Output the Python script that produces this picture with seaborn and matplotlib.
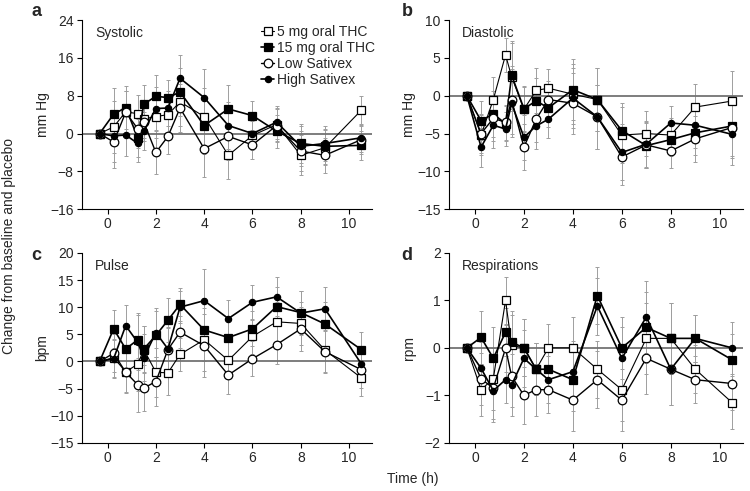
import matplotlib
matplotlib.use("Agg")
import matplotlib.pyplot as plt
import seaborn as sns

# time points (h); first one is the pre-dose baseline
times = [-0.33, 0.25, 0.75, 1.25, 1.5, 2, 2.5, 3, 4, 5, 6, 7, 8, 9, 10.5]

groups = ["5 mg oral THC", "15 mg oral THC", "Low Sativex", "High Sativex"]

# a: systolic (mm Hg)
sys_thc5 = [0, 1.4, 4.6, 4.2, 3.1, 3.6, 4.0, 6.7, 3.6, -4.6, -0.4, 1.9, -4.6, -3.0, 4.9]
sys_thc15 = [0, 4.1, 5.5, -0.9, 6.2, 7.9, 7.6, 8.8, 1.7, 5.2, 3.8, 0.5, -2.1, -2.7, -2.5]
sys_low = [0, -1.8, 4.5, 1.0, 2.4, -4.0, -0.6, 5.4, -3.2, -0.6, -2.4, 1.7, -3.7, -4.6, -1.3]
sys_high = [0, -0.5, -0.3, -2.1, 0.5, 5.3, 5.4, 11.7, 7.6, 1.7, 0.0, 2.4, -2.7, -2.1, -0.9]
sys_err = [0, 5.5, 4.5, 4, 4, 4.5, 3.7, 5, 6, 5, 3, 3.5, 4.2, 3.7, 3]

# b: diastolic (mm Hg)
dia_thc5 = [0, -5.2, -0.5, 5.4, 2.5, -1.8, 0.7, 1.0, 0.2, -0.5, -5.2, -5.0, -5.2, -1.5, -0.7]
dia_thc15 = [0, -3.3, -2.4, -3.7, 2.7, -1.7, -0.7, -1.6, 0.8, -0.5, -4.6, -6.6, -5.8, -4.9, -4.0]
dia_low = [0, -5.0, -3.0, -3.5, -0.6, -6.8, -3.1, -0.5, -1.0, -2.8, -8.1, -6.5, -7.3, -5.7, -4.2]
dia_high = [0, -6.8, -3.9, -4.4, -1.0, -5.5, -4.0, -3.1, -0.3, -2.8, -7.5, -6.4, -3.6, -3.9, -5.1]
dia_err = [0, 2.6, 3, 2.3, 4.5, 3, 3, 2.5, 4, 4.2, 3.7, 3, 2.2, 3, 4]

# c: pulse (bpm)
pul_thc5 = [0, 0.7, -1.9, -0.5, 2.2, -2.0, -2.1, 1.3, 4.0, 0.2, 4.6, 7.3, 7.0, 2.1, -3.0]
pul_thc15 = [0, 6.0, 2.3, 4.0, 2.3, 4.8, 7.6, 10.5, 5.8, 4.4, 6.0, 10.1, 9.0, 6.9, 2.2]
pul_low = [0, 1.5, -2.0, -4.3, -4.9, -3.7, 2.2, 5.4, 2.9, -2.5, 0.5, 3.1, 6.0, 1.8, -1.5]
pul_high = [0, 0.5, 6.6, 3.5, 0.7, 5.3, 2.3, 10.0, 11.2, 7.9, 10.9, 11.9, 8.9, 9.7, -0.4]
pul_err = [0, 3.5, 3.8, 5, 4.3, 4.5, 4, 3, 5.8, 3.5, 3.2, 3.6, 4, 4, 3.3]

# d: respirations (rpm)
res_thc5 = [0, -0.88, -0.65, 1.0, 0.05, 0.0, -0.45, 0.0, 0.0, -0.45, -0.88, 0.2, 0.2, -0.45, -1.15]
res_thc15 = [0, 0.22, -0.22, 0.33, 0.12, 0.0, -0.45, -0.45, -0.67, 1.1, 0.0, 0.43, 0.2, 0.2, -0.25]
res_low = [0, -0.65, -0.85, -0.01, -0.6, -1.0, -0.88, -0.88, -1.1, -0.67, -1.1, -0.22, -0.45, -0.67, -0.75]
res_high = [0, -0.43, -0.9, -0.67, -0.78, -0.22, -0.45, -0.67, -0.5, 0.88, -0.22, 0.65, -0.45, 0.2, 0.0]
res_err = [0, 0.55, 0.65, 0.5, 0.65, 0.6, 0.55, 0.5, 0.65, 0.6, 0.66, 0.75, 0.75, 0.5, 0.55]

panels = [
    ("a", "Systolic", "mm Hg", [sys_thc5, sys_thc15, sys_low, sys_high], sys_err,
     (-16, 24), [-16, -8, 0, 8, 16, 24]),
    ("b", "Diastolic", "mm Hg", [dia_thc5, dia_thc15, dia_low, dia_high], dia_err,
     (-15, 10), [-15, -10, -5, 0, 5, 10]),
    ("c", "Pulse", "bpm", [pul_thc5, pul_thc15, pul_low, pul_high], pul_err,
     (-15, 20), [-15, -10, -5, 0, 5, 10, 15, 20]),
    ("d", "Respirations", "rpm", [res_thc5, res_thc15, res_low, res_high], res_err,
     (-2, 2), [-2, -1, 0, 1, 2]),
]

# marker style per group: (marker, face colour, size, line width)
styles = [
    ("s", "white", 6.2, 0.8),
    ("s", "black", 5.5, 1.2),
    ("o", "white", 6.2, 1.0),
    ("o", "black", 4.5, 1.2),
]

sns.set_style("ticks")
plt.rcParams["font.family"] = ["Liberation Sans", "DejaVu Sans"]

fig = plt.figure(figsize=(7.5, 4.91), dpi=100)
boxes = [
    (82 / 750, 0.574, 290 / 750, 0.385),
    (449 / 750, 0.574, 294 / 750, 0.385),
    (82 / 750, 0.098, 290 / 750, 0.387),
    (449 / 750, 0.098, 294 / 750, 0.387),
]
# panel letter positions (figure fraction)
letter_pos = [(37 / 750, 1 - 12 / 491), (407 / 750, 1 - 12 / 491),
              (36 / 750, 1 - 256 / 491), (407 / 750, 1 - 256 / 491)]

for (letter, title, unit, series, err, ylim, yticks), box, lp in zip(panels, boxes, letter_pos):
    ax = fig.add_axes(box)
    ax.axhline(0, color="0.45", lw=1.3, zorder=1.5)
    for vals in series:
        ax.errorbar(times, vals, yerr=err, fmt="none", ecolor="0.62",
                    elinewidth=0.7, capsize=1.5, capthick=0.7, zorder=1)
    for name, vals, (mk, fc, ms, lw) in zip(groups, series, styles):
        sns.lineplot(x=times, y=vals, ax=ax, color="black", marker=mk,
                     markerfacecolor=fc, markeredgecolor="black",
                     markeredgewidth=0.9, markersize=ms, linewidth=lw,
                     label=name, legend=False, zorder=3)
    ax.set_xlim(-1.06, 10.95)
    ax.set_ylim(*ylim)
    ax.set_xticks([0, 2, 4, 6, 8, 10])
    ax.set_yticks(yticks)
    ax.tick_params(labelsize=10, length=3.5, width=0.8, pad=2.5, color="black")
    for s in ["left", "bottom"]:
        ax.spines[s].set_linewidth(0.8)
        ax.spines[s].set_color("black")
    sns.despine(ax=ax)
    ax.set_xlabel("")
    ax.set_ylabel(unit, fontsize=10)
    ax.yaxis.set_label_coords(-0.112, 0.5)
    ax.text(0.045, 0.93, title, transform=ax.transAxes, fontsize=10,
            ha="left", va="center")
    fig.text(lp[0], lp[1], letter, fontsize=13, fontweight="bold",
             ha="center", va="center")
    if letter == "a":
        ax.legend(loc="upper right", bbox_to_anchor=(1.04, 1.02), frameon=False,
                  fontsize=10, handlelength=1.0, handletextpad=0.2,
                  labelspacing=0.15, borderaxespad=0.2)

fig.text(0.012, 0.5, "Change from baseline and placebo", rotation=90,
         fontsize=10, ha="center", va="center")
fig.text(413 / 750, 1 - 479 / 491, "Time (h)", fontsize=10, ha="center", va="center")

fig.savefig("out.png", dpi=100)
